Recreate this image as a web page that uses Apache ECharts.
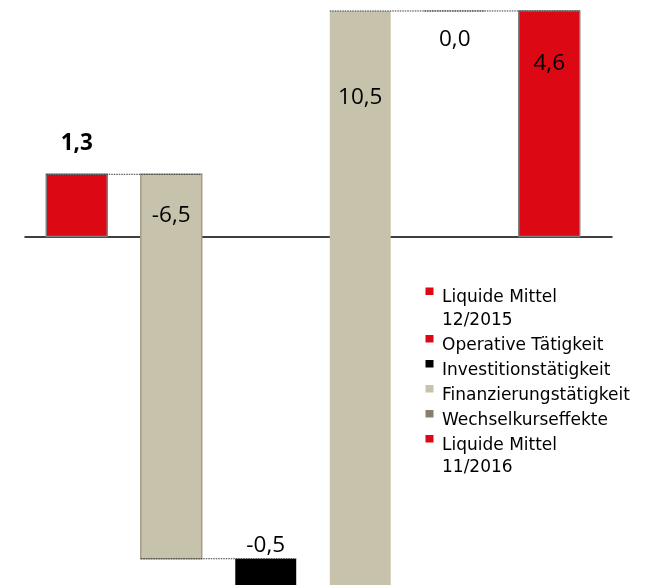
<!DOCTYPE html>
<html>
<head>
<meta charset="utf-8">
<script src="https://cdn.jsdelivr.net/npm/echarts@6/dist/echarts.min.js"></script>
<style>
  html, body { margin: 0; padding: 0; background: #ffffff; }
  #chart { width: 652px; height: 585px; }
</style>
</head>
<body>
<div id="chart"></div>
<script>
// ---------- DATA ----------
var categories = [
  'Liquide Mittel\n12/2015',
  'Operative Tätigkeit',
  'Investitionstätigkeit',
  'Finanzierungstätigkeit',
  'Wechselkurseffekte',
  'Liquide Mittel\n11/2016'
];
// printed data labels
var valueLabels = ['1,3', '-6,5', '-0,5', '10,5', '0,0', '4,6'];
// where each floating bar starts and ends (value units)
var barStart = [0, 1.3, -6.75, -7.4, 4.72, 0];
var barEnd   = [1.3, -6.75, -7.4, 4.72, 4.72, 4.72];

// ---------- STYLE / LAYOUT ----------
var barColors   = ['#DC0814', '#C7C2AC', '#000000', '#C7C2AC', '#857F6B', '#DC0814'];
var barBorders  = ['#7F7F7F', '#A39D89', null, null, null, '#7F7F7F'];
var legendColors = ['#DC0814', '#DC0814', '#000000', '#C7C2AC', '#857F6B', '#DC0814'];
var labelBold   = [true, false, false, false, false, false];
var labelOffset = [-31, 41, -13, 87, 29, 53]; // px from bar top edge to label centre
var LABEL_FONT = '"Open Sans", "Liberation Sans", sans-serif';
var LEGEND_FONT = '"DejaVu Sans", "Open Sans", sans-serif';

var seriesData = categories.map(function (c, i) { return [i, barStart[i], barEnd[i]]; });

function renderItem(params, api) {
  var i = api.value(0);
  var s = api.value(1), e = api.value(2);
  var band = api.size([1, 0])[0];
  var w = band * 0.645;
  var pHi = api.coord([i, Math.max(s, e)]);
  var pLo = api.coord([i, Math.min(s, e)]);
  var x0 = pHi[0] - w / 2;
  var children = [];
  var h = pLo[1] - pHi[1];
  if (h > 0.5) {
    children.push({
      type: 'rect',
      shape: { x: x0, y: pHi[1], width: w, height: h },
      style: {
        fill: barColors[i],
        stroke: barBorders[i] || 'none',
        lineWidth: barBorders[i] ? 1.5 : 0
      }
    });
  }
  // connector to the previous bar (series line)
  if (i > 0) {
    var lvl = barEnd[i - 1];
    var pa = api.coord([i - 1, lvl]);
    var pb = api.coord([i, lvl]);
    children.push({
      type: 'line',
      shape: { x1: pa[0] - w / 2, y1: pa[1], x2: pb[0] + w / 2, y2: pb[1] },
      style: { stroke: '#3a3a3a', lineWidth: 1, lineDash: [1.5, 1] }
    });
  }
  children.push({
    type: 'text',
    style: {
      text: valueLabels[i],
      x: pHi[0],
      y: pHi[1] + labelOffset[i],
      align: 'center',
      verticalAlign: 'middle',
      fill: '#000000',
      font: (labelBold[i] ? 'bold ' : '') + '22.5px ' + LABEL_FONT
    },
    z2: 10
  });
  return { type: 'group', children: children };
}

// legend built as graphic text (icon sits on the first text line)
var legendLayout = { iconX: 425.5, textX: 442, firstY: 298, lineH: 22.5, gap: 2.5, size: 17 };
var legendGraphics = [];
(function () {
  var y = legendLayout.firstY;
  categories.forEach(function (name, i) {
    var lines = name.split('\n').length;
    legendGraphics.push({
      type: 'rect',
      shape: { x: legendLayout.iconX, y: y - 10.5, width: 8, height: 7.5 },
      style: { fill: legendColors[i] }
    });
    legendGraphics.push({
      type: 'text',
      style: {
        text: name,
        x: legendLayout.textX,
        y: y - legendLayout.lineH / 2,
        verticalAlign: 'top',
        lineHeight: legendLayout.lineH,
        fill: '#000000',
        font: legendLayout.size + 'px ' + LEGEND_FONT
      }
    });
    y += lines * legendLayout.lineH + legendLayout.gap;
  });
})();

var chart = echarts.init(document.getElementById('chart'), null, { renderer: 'canvas' });
chart.setOption({
  backgroundColor: '#ffffff',
  animation: false,
  grid: [
    { left: 29.5, right: 55.5, top: 0, bottom: 0 },
    { left: 25, right: 40, top: 0, bottom: 0 }
  ],
  xAxis: [
    { type: 'category', gridIndex: 0, data: categories, show: false },
    { type: 'category', gridIndex: 1, data: categories,
      axisLine: { show: true, onZero: true, lineStyle: { color: '#000000', width: 1.5 } },
      axisTick: { show: false }, axisLabel: { show: false }, splitLine: { show: false } }
  ],
  yAxis: [
    { type: 'value', gridIndex: 0, min: -7.3, max: 4.95, show: false },
    { type: 'value', gridIndex: 1, min: -7.3, max: 4.95, show: false }
  ],
  series: [{
    type: 'custom',
    name: 'Cashflow',
    xAxisIndex: 0,
    yAxisIndex: 0,
    renderItem: renderItem,
    encode: { x: 0, y: [1, 2] },
    data: seriesData,
    clip: true,
    z: 3
  }],
  graphic: legendGraphics
});
</script>
</body>
</html>
